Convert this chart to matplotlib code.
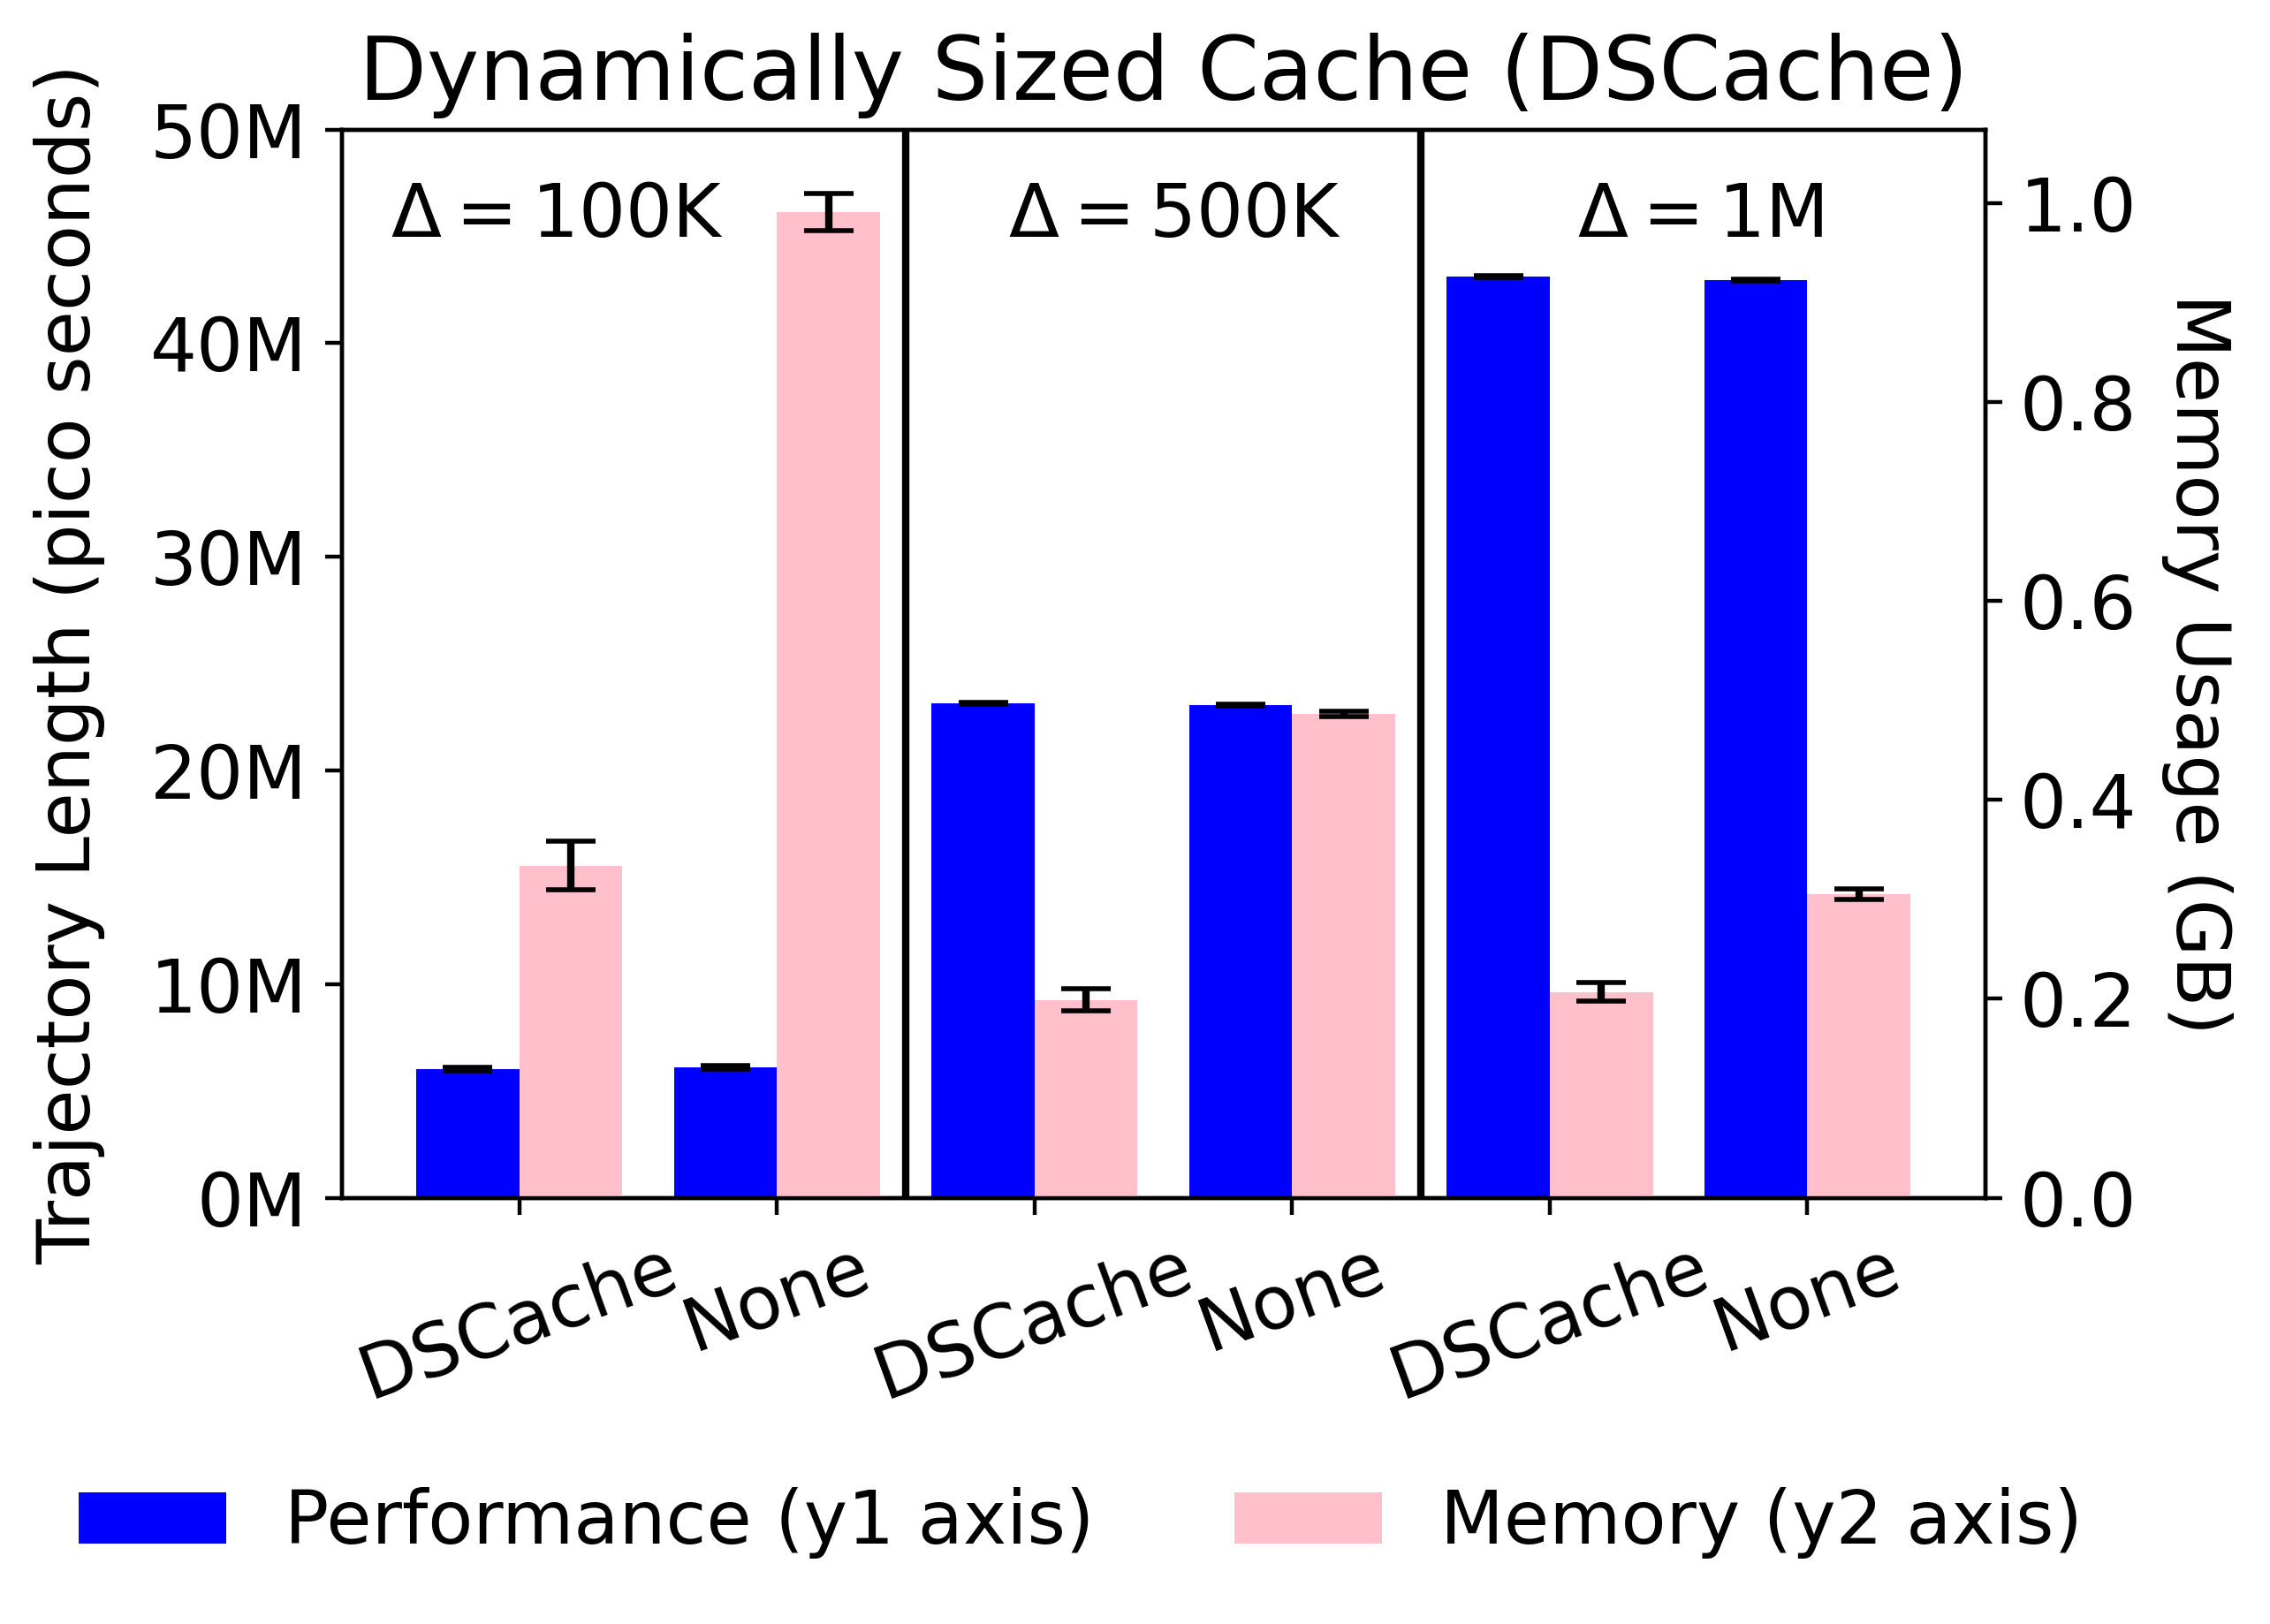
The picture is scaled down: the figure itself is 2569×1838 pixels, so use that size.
import numpy as np
from matplotlib import pyplot as plt
from matplotlib.ticker import FuncFormatter

plt.rcParams['font.family'] = ['DejaVu Sans']
plt.rcParams['font.size'] = 15

# one bar pair per (delta, cache policy) combination
policies = ["DSCache", "None", "DSCache", "None", "DSCache", "None"]
deltas = [r"$\Delta = \mathrm{100K}$", r"$\Delta = \mathrm{500K}$", r"$\Delta = \mathrm{1M}$"]

# trajectory length (pico seconds) -> y1 axis
perf = [6.03e6, 6.11e6, 23.15e6, 23.06e6, 43.11e6, 42.94e6]
perf_err = [0.08e6, 0.08e6, 0.045e6, 0.045e6, 0.045e6, 0.045e6]

# memory usage (GB) -> y2 axis
mem = [0.334, 0.991, 0.199, 0.486, 0.207, 0.305]
mem_err = [0.0243, 0.0184, 0.0110, 0.0027, 0.0091, 0.0055]

x = np.arange(len(policies))
width = 0.4

fig, ax1 = plt.subplots(figsize=(2569 / 400, 1838 / 400))
fig.subplots_adjust(left=0.1505, right=0.8745, top=0.9202, bottom=0.2624)
ax2 = ax1.twinx()

err_style = dict(ecolor="black", capsize=5)
b1 = ax1.bar(x - width / 2, perf, width, yerr=perf_err, color="blue",
             label="Performance (y1 axis)", error_kw=err_style)
b2 = ax2.bar(x + width / 2, mem, width, yerr=mem_err, color="pink",
             label="Memory (y2 axis)", error_kw=err_style)

# separators between the delta groups
for sep in [1.5, 3.5]:
    ax1.axvline(sep, color="black", linewidth=1.5)

# group labels
for xpos, txt in zip([0.145, 2.543, 4.583], deltas):
    ax1.text(xpos, 45e6, txt, ha="center", va="baseline")

ax1.set_ylim(0, 50e6)
ax1.set_yticks(np.arange(0, 50e6 + 1, 10e6))
ax1.yaxis.set_major_formatter(FuncFormatter(lambda v, p: "%dM" % int(round(v / 1e6))))
ax2.set_ylim(0, 1.0737)

ax1.set_xticks(x)
ax1.set_xticklabels(policies, rotation=20)

ax1.set_ylabel("Trajectory Length (pico seconds)", labelpad=9)
ax2.set_ylabel("Memory Usage (GB)", rotation=270, va="bottom", labelpad=5)
ax1.set_title("Dynamically Sized Cache (DSCache)")

fig.legend([b1, b2], [b1.get_label(), b2.get_label()], loc="center", ncol=2,
           frameon=False, columnspacing=1.9, bbox_to_anchor=(0.4761, 0.0623))

plt.savefig("out.png", dpi=400)
